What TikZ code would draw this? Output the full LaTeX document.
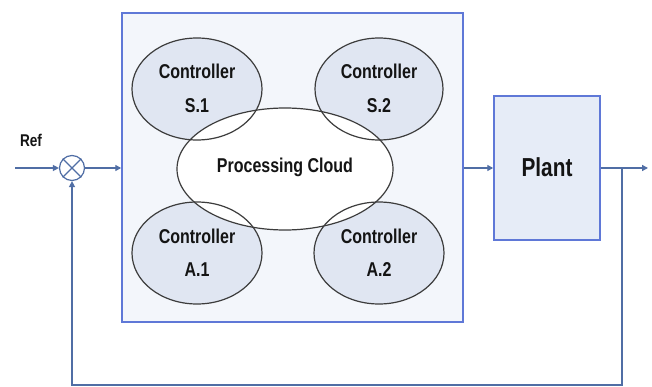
\documentclass[tikz,border=0pt]{standalone}
\usepackage{fontspec}
\setmainfont{Liberation Sans}
\newfontfamily\narrowf[FakeStretch=0.8]{Liberation Sans}
\usetikzlibrary{arrows.meta}
\definecolor{boxblue}{RGB}{95,120,215}
\definecolor{arrowblue}{RGB}{80,110,165}
\definecolor{ctrlfill}{RGB}{224,230,242}
\definecolor{panelfill}{RGB}{243,246,251}
\definecolor{plantfill}{RGB}{230,236,247}
\definecolor{ellline}{RGB}{60,60,60}
\tikzset{
  lbl/.style={font=\narrowf\bfseries\fontsize{20}{22}\selectfont, text=black!92, inner sep=0pt},
  ell/.style={draw=ellline, line width=1.2pt},
  conn/.style={draw=arrowblue, line width=1.3pt, -{Triangle[length=6pt,width=6pt]}},
}
\begin{document}
\begin{tikzpicture}[x=1pt,y=-1pt]
\useasboundingbox (0,0) rectangle (652,387);
\fill[white] (0,0) rectangle (652,387);
% panel
\node[draw=boxblue, fill=panelfill, line width=1.5pt, minimum width=341pt, minimum height=309pt, inner sep=0pt] (panel) at (292.5,167.5) {};
% controller fills
\fill[ctrlfill] (197,89) ellipse [x radius=65, y radius=51];
\fill[ctrlfill] (379,89) ellipse [x radius=64, y radius=51];
\fill[ctrlfill] (197,253) ellipse [x radius=65, y radius=51];
\fill[ctrlfill] (379,253) ellipse [x radius=65, y radius=51];
\fill[white] (285,169) ellipse [x radius=108, y radius=61];
% outlines
\draw[ell] (197,89) ellipse [x radius=65, y radius=51];
\draw[ell] (379,89) ellipse [x radius=64, y radius=51];
\draw[ell] (197,253) ellipse [x radius=65, y radius=51];
\draw[ell] (379,253) ellipse [x radius=65, y radius=51];
\draw[ell] (285,169) ellipse [x radius=108, y radius=61];
% labels
\node[lbl] (s1a) at (197,71) {Controller};
\node[lbl] (s1b) at (197,106) {S.1};
\node[lbl] (s2a) at (379,71) {Controller};
\node[lbl] (s2b) at (379,106) {S.2};
\node[lbl] (a1a) at (197,236) {Controller};
\node[lbl] (a1b) at (197,270) {A.1};
\node[lbl] (a2a) at (379,236) {Controller};
\node[lbl] (a2b) at (379,270) {A.2};
\node[lbl] (cloud) at (285,167) {Processing Cloud};
% plant
\node[draw=boxblue, fill=plantfill, line width=1.5pt, minimum width=106pt, minimum height=144pt, inner sep=0pt] (plant) at (547,168) {};
\node[lbl, font=\narrowf\bfseries\fontsize{26}{28}\selectfont] (plantlbl) at (547,167) {Plant};
% summing junction
\node[draw=arrowblue, line width=1.2pt, circle, minimum size=25pt, inner sep=0pt] (sum) at (72,168) {};
\draw[arrowblue, line width=1.2pt] (sum.45) -- (sum.225) (sum.135) -- (sum.315);
\node[lbl, font=\narrowf\bfseries\fontsize{17}{19}\selectfont] (ref) at (31,140) {Ref};
% connectors
\coordinate (in) at (15,168);
\coordinate (br) at (622,168);
\coordinate (out) at (648,168);
\coordinate (fbc) at (622,385);
\draw[conn] (in) -- (sum.west);
\draw[conn] (sum.east) -- (panel.west |- sum.east);
\draw[conn] (panel.east |- plant.west) -- (plant.west);
\draw[conn] (plant.east) -- (out);
\draw[conn] (br) -- (fbc) -| (sum.south);
\end{tikzpicture}
\end{document}
